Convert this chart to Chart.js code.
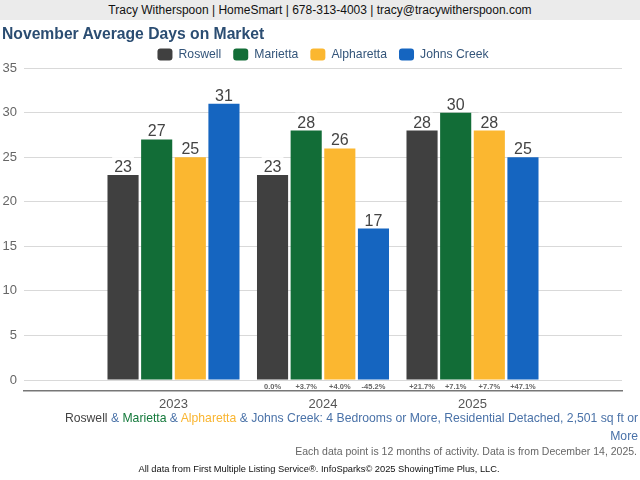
<!DOCTYPE html>
<html>
<head>
<meta charset="utf-8">
<script src="https://cdn.jsdelivr.net/npm/chart.js@4/dist/chart.umd.min.js"></script>
<style>
  html, body { margin:0; padding:0; background:#fff; }
  body { width:640px; height:480px; position:relative; overflow:hidden; font-family:"Liberation Sans", Arial, sans-serif; }
  #hdr { position:absolute; left:0; top:0; width:640px; height:20px; background:#ebebeb; color:#111; font-size:12px; line-height:21px; text-align:center; }
  #title { position:absolute; left:2px; top:24px; font-size:15.7px; font-weight:bold; color:#2b4d72; line-height:20px; white-space:nowrap; }
  #wrap { position:absolute; left:0; top:0; width:640px; height:480px; }
  #sub { position:absolute; right:2px; top:409px; width:620px; text-align:right; font-size:12.2px; line-height:18px; color:#4a72a8; white-space:nowrap; }
  #note { position:absolute; right:3px; top:444px; font-size:10.5px; line-height:14px; color:#666; white-space:nowrap; }
  #foot { position:absolute; left:0; width:638px; top:463px; text-align:center; font-size:9.3px; line-height:12px; color:#111; white-space:nowrap; }
</style>
</head>
<body>
<div id="wrap"><canvas id="c" width="640" height="480"></canvas></div>
<div id="hdr">Tracy Witherspoon | HomeSmart | 678-313-4003 | tracy@tracywitherspoon.com</div>
<div id="title">November Average Days on Market</div>
<div id="sub"><span style="color:#444">Roswell</span> &amp; <span style="color:#157a3c">Marietta</span> &amp; <span style="color:#f9b531">Alpharetta</span> &amp; Johns Creek: 4 Bedrooms or More, Residential Detached, 2,501 sq ft or<br>More</div>
<div id="note">Each data point is 12 months of activity. Data is from December 14, 2025.</div>
<div id="foot">All data from First Multiple Listing Service®. InfoSparks© 2025 ShowingTime Plus, LLC.</div>
<script>
const years = ['2023', '2024', '2025'];
const seriesNames = ['Roswell', 'Marietta', 'Alpharetta', 'Johns Creek'];
const roswell = [23, 23, 28];
const marietta = [27, 28, 30];
const alpharetta = [25, 26, 28];
const johnsCreek = [31, 17, 25];
const roswellChange = ['', '0.0%', '+21.7%'];
const mariettaChange = ['', '+3.7%', '+7.1%'];
const alpharettaChange = ['', '+4.0%', '+7.7%'];
const johnsCreekChange = ['', '-45.2%', '+47.1%'];
const yTicks = [0, 5, 10, 15, 20, 25, 30, 35];
const colors = ['#404040', '#126d37', '#fbb730', '#1565c0'];

const pad = arr => [null, ...arr, null];
const labels = ['', ...years, ''];
const values = [roswell, marietta, alpharetta, johnsCreek];
const changes = [roswellChange, mariettaChange, alpharettaChange, johnsCreekChange];

const labelPlugin = {
  id: 'barLabels',
  afterDatasetsDraw(chart) {
    const ctx = chart.ctx;
    const zeroY = chart.scales.y.getPixelForValue(0);
    const bottom = chart.chartArea.bottom;
    chart.data.datasets.forEach((ds, di) => {
      const meta = chart.getDatasetMeta(di);
      meta.data.forEach((el, i) => {
        const v = ds.data[i];
        if (v === null || v === undefined) return;
        ctx.save();
        ctx.font = '16px "Liberation Sans", Arial, sans-serif';
        const t = String(v);
        const w = ctx.measureText(t).width;
        ctx.fillStyle = '#fff';
        ctx.fillRect(el.x - w / 2 - 2, el.y - 18, w + 4, 16);
        ctx.fillStyle = '#444';
        ctx.textAlign = 'center';
        ctx.textBaseline = 'alphabetic';
        ctx.fillText(t, el.x, el.y - 3);
        const c = changes[di][i - 1];
        if (c) {
          ctx.font = 'bold 7.5px "Liberation Sans", Arial, sans-serif';
          ctx.fillStyle = '#666';
          ctx.textBaseline = 'middle';
          ctx.fillText(c, el.x, (zeroY + bottom) / 2 + 1);
        }
        ctx.restore();
      });
    });
  }
};

const legendTrim = {
  id: 'legendTrim',
  afterInit(chart) {
    const lg = chart.legend;
    if (!lg) return;
    const orig = lg.fit;
    lg.fit = function () { orig.call(this); this.height -= 2.5; };
  }
};

new Chart(document.getElementById('c'), {
  type: 'bar',
  data: {
    labels: labels,
    datasets: seriesNames.map((n, i) => ({
      label: n,
      data: pad(values[i]),
      backgroundColor: colors[i],
      borderWidth: 0,
      categoryPercentage: 0.9,
      barPercentage: 0.925
    }))
  },
  options: {
    responsive: false,
    animation: false,
    layout: { padding: { top: 36.5, left: 0, right: 18, bottom: 69 } },
    plugins: {
      title: { display: false },
      legend: {
        position: 'top',
        fullSize: false,
        labels: {
          boxWidth: 15, boxHeight: 12, padding: 12,
          useBorderRadius: true, borderRadius: 3,
          color: '#34557a',
          font: { family: '"Liberation Sans", Arial, sans-serif', size: 12.2 }
        }
      },
      tooltip: { enabled: false }
    },
    scales: {
      x: {
        offset: false,
        grid: { display: false, drawTicks: false },
        border: { display: true, color: '#777', width: 1.5 },
        ticks: { autoSkip: false, maxRotation: 0, padding: 6, color: '#555',
          font: { family: '"Liberation Sans", Arial, sans-serif', size: 13 } },
        afterFit: s => { s.height = 20; }
      },
      y: {
        min: -1.234, max: 35,
        afterBuildTicks: s => { s.ticks = yTicks.map(v => ({ value: v })); },
        grid: { color: '#d9d9d9', drawTicks: false },
        border: { display: false },
        ticks: { padding: 7, color: '#666',
          font: { family: '"Liberation Sans", Arial, sans-serif', size: 13 } },
        afterFit: s => { s.width = 24; }
      }
    }
  },
  plugins: [labelPlugin, legendTrim]
});
</script>
</body>
</html>
